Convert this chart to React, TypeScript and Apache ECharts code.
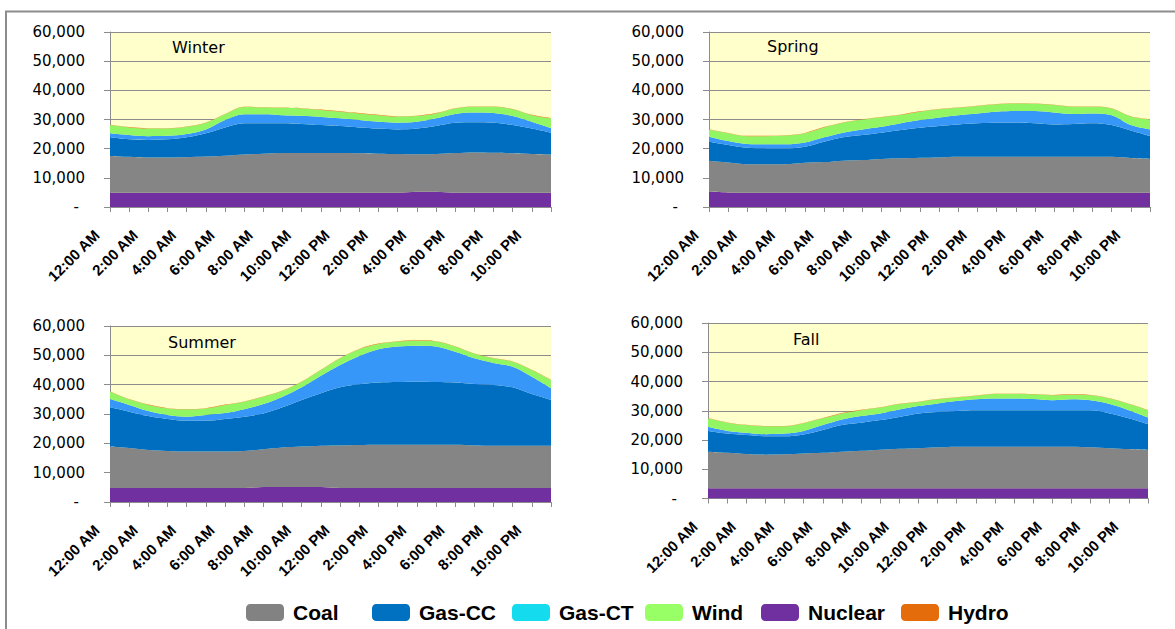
import React, { useEffect, useRef } from 'react';
import * as echarts from 'echarts';

const HOURS = [
  '12:00 AM', '1:00 AM', '2:00 AM', '3:00 AM', '4:00 AM', '5:00 AM',
  '6:00 AM', '7:00 AM', '8:00 AM', '9:00 AM', '10:00 AM', '11:00 AM',
  '12:00 PM', '1:00 PM', '2:00 PM', '3:00 PM', '4:00 PM', '5:00 PM',
  '6:00 PM', '7:00 PM', '8:00 PM', '9:00 PM', '10:00 PM', '11:00 PM',
];

const SEASONS = ['Winter', 'Spring', 'Summer', 'Fall'];
const SOURCES = ['Nuclear', 'Coal', 'Gas-CC', 'Gas-CT', 'Wind', 'Hydro'];
const LEGEND_ORDER = ['Coal', 'Gas-CC', 'Gas-CT', 'Wind', 'Nuclear', 'Hydro'];

// MW by hour
const winterNuclear = [4900, 4900, 4900, 4900, 4900, 4900, 4900, 4900, 4900, 4900, 4900, 4900, 4900, 4900, 4900, 4900, 5200, 5200, 4900, 4900, 4900, 4900, 4900, 4900];
const winterCoal = [12600, 12300, 12100, 12100, 12200, 12400, 12700, 13100, 13400, 13600, 13600, 13600, 13600, 13500, 13400, 13300, 12900, 13000, 13600, 13800, 13700, 13500, 13300, 13100];
const winterGasCC = [6400, 6000, 6000, 6200, 6800, 8000, 9700, 10700, 10400, 10200, 10000, 9600, 9300, 8900, 8600, 8400, 8800, 9600, 10400, 10400, 10300, 9700, 8700, 7500];
const winterGasCT = [1400, 1500, 1300, 1200, 1100, 1300, 2500, 3100, 3100, 2800, 2800, 2800, 2600, 2500, 2300, 2300, 2300, 2600, 3000, 3300, 3300, 3100, 2300, 1500];
const winterWind = [2800, 2600, 2600, 2500, 2500, 2300, 2000, 2500, 2300, 2500, 2500, 2400, 2300, 2300, 2300, 2100, 2000, 1700, 1900, 2000, 2200, 2300, 2300, 3400];
const winterHydro = [100, 100, 100, 100, 100, 100, 100, 100, 100, 100, 100, 100, 100, 100, 100, 100, 100, 100, 100, 100, 100, 100, 100, 100];

const springNuclear = [5200, 5000, 4900, 4900, 4900, 4900, 4900, 4900, 4900, 4900, 4900, 4900, 4900, 4900, 4900, 4900, 4900, 4900, 4900, 4900, 4900, 4900, 4900, 4900];
const springCoal = [10700, 10300, 9800, 9800, 9800, 10300, 10500, 11000, 11200, 11600, 11800, 12000, 12100, 12300, 12300, 12300, 12300, 12300, 12300, 12300, 12300, 12300, 11900, 11600];
const springGasCC = [6500, 6000, 5600, 5400, 5400, 5500, 7000, 8000, 8600, 9000, 9700, 10300, 10800, 11100, 11500, 11700, 11700, 11500, 11100, 11300, 11500, 10900, 9400, 7800];
const springGasCT = [1700, 1300, 1300, 1400, 1400, 1400, 1500, 1600, 1900, 2000, 2300, 2600, 2900, 3200, 3400, 3800, 4000, 4200, 4100, 3400, 3400, 3400, 1900, 2300];
const springWind = [2500, 2700, 2700, 2800, 3000, 3200, 3400, 3400, 3400, 3300, 2900, 2900, 2800, 2500, 2500, 2500, 2600, 2500, 2600, 2500, 2300, 2300, 2900, 3400];
const springHydro = [100, 100, 100, 100, 100, 100, 100, 100, 100, 100, 100, 100, 100, 100, 100, 100, 100, 100, 100, 100, 100, 100, 100, 100];

const summerNuclear = [4800, 4800, 4800, 4800, 4800, 4800, 4800, 4800, 5100, 5100, 5100, 5100, 4800, 4800, 4800, 4800, 4800, 4800, 4800, 4800, 4800, 4800, 4800, 4800];
const summerCoal = [14100, 13600, 12900, 12600, 12400, 12400, 12400, 12600, 12900, 13500, 13800, 14100, 14500, 14600, 14700, 14700, 14700, 14700, 14700, 14500, 14400, 14400, 14400, 14400];
const summerGasCC = [13400, 12400, 11600, 10900, 10500, 10500, 11100, 11700, 12200, 13700, 15900, 17900, 19800, 20700, 21200, 21400, 21500, 21400, 21200, 20900, 20700, 19900, 17600, 15600];
const summerGasCT = [2800, 2300, 1700, 1400, 1400, 2000, 2000, 2500, 3200, 3600, 4300, 5900, 7600, 9700, 11400, 12100, 12300, 12100, 10500, 8800, 7500, 7000, 5900, 4000];
const summerWind = [2500, 1900, 2100, 2200, 2500, 2200, 2800, 2600, 2500, 2000, 1900, 2000, 2300, 2300, 1800, 1700, 1700, 1700, 1800, 1500, 1600, 1700, 2300, 2800];
const summerHydro = [100, 100, 100, 100, 100, 100, 100, 100, 100, 100, 100, 100, 100, 100, 100, 100, 100, 100, 100, 100, 100, 100, 100, 100];

const fallNuclear = [3500, 3500, 3500, 3500, 3500, 3500, 3500, 3500, 3500, 3500, 3500, 3500, 3500, 3500, 3500, 3500, 3500, 3500, 3500, 3500, 3500, 3500, 3500, 3500];
const fallCoal = [12500, 12100, 11700, 11500, 11600, 11900, 12100, 12500, 12800, 13200, 13500, 13700, 14000, 14200, 14200, 14200, 14200, 14200, 14200, 14200, 14000, 13700, 13400, 13100];
const fallGasCC = [7100, 6600, 6500, 6300, 6200, 6500, 7800, 9100, 9600, 10100, 10900, 11900, 12100, 12200, 12500, 12500, 12500, 12500, 12500, 12500, 12700, 11900, 10500, 8800];
const fallGasCT = [1400, 900, 800, 700, 900, 1200, 1700, 1900, 2300, 2300, 2500, 2500, 2900, 3400, 3700, 4000, 4000, 3800, 3400, 3700, 3400, 3200, 2800, 2300];
const fallWind = [2900, 2800, 2600, 2700, 2500, 2600, 2300, 2100, 2000, 2000, 1900, 1400, 1400, 1200, 1200, 1500, 1500, 1600, 1700, 1600, 1700, 1900, 2100, 2500];
const fallHydro = [100, 100, 100, 100, 100, 100, 100, 100, 100, 100, 100, 100, 100, 100, 100, 100, 100, 100, 100, 100, 100, 100, 100, 100];

const SEASON_DATA: number[][][] = [
  [winterNuclear, winterCoal, winterGasCC, winterGasCT, winterWind, winterHydro],
  [springNuclear, springCoal, springGasCC, springGasCT, springWind, springHydro],
  [summerNuclear, summerCoal, summerGasCC, summerGasCT, summerWind, summerHydro],
  [fallNuclear, fallCoal, fallGasCC, fallGasCT, fallWind, fallHydro],
];

const AREA_COLORS: Record<string, string> = {
  Nuclear: '#7030A0',
  Coal: '#858585',
  'Gas-CC': '#006EC0',
  'Gas-CT': '#3797F8',
  Wind: '#92F664',
  Hydro: '#E46C0A',
};
const LEGEND_COLORS: Record<string, string> = {
  Coal: '#828282',
  'Gas-CC': '#0070C0',
  'Gas-CT': '#15DBEF',
  Wind: '#99FF66',
  Nuclear: '#7030A0',
  Hydro: '#E46C0A',
};

const GRIDS = [
  { left: 110, top: 32, width: 441, height: 175 },
  { left: 709, top: 32, width: 441, height: 175 },
  { left: 110, top: 326, width: 441, height: 176 },
  { left: 708, top: 323, width: 440, height: 175.5 },
];
const TITLE_POS = [
  { x: 172, y: 47 },
  { x: 767, y: 46.5 },
  { x: 168, y: 342.5 },
  { x: 793, y: 339 },
];
const LEGEND_LEFT = [246, 372, 512, 645, 761, 901];

const AXIS_GRAY = '#8c8c8c';

function fmt(v: number): string {
  if (v === 0) return '{d|-}';
  return String(v).replace(/\B(?=(\d{3})+(?!\d))/g, ',');
}

export default function App() {
  const ref = useRef<HTMLDivElement>(null);
  useEffect(() => {
    if (!ref.current) return;
    const chart = echarts.init(ref.current, undefined, { renderer: 'svg' });

    const xAxis = GRIDS.map((_, i) => ({
      type: 'category',
      gridIndex: i,
      data: HOURS,
      boundaryGap: false,
      axisLine: { show: true, lineStyle: { color: AXIS_GRAY, width: 1 } },
      axisTick: { show: true, interval: 0, length: 5, lineStyle: { color: AXIS_GRAY } },
      axisLabel: {
        interval: 1,
        rotate: 45,
        margin: 12,
        padding: [0, 19, 0, 0],
        fontFamily: '"Liberation Sans", Arial, sans-serif',
        fontWeight: 'bold',
        fontSize: 15,
        color: '#000',
      },
      splitLine: { show: false },
    }));

    const yAxis = GRIDS.map((_, i) => ({
      type: 'value',
      gridIndex: i,
      min: 0,
      max: 60000,
      interval: 10000,
      axisLine: { show: true, lineStyle: { color: AXIS_GRAY, width: 1 } },
      axisTick: { show: true, length: 6, lineStyle: { color: AXIS_GRAY } },
      splitLine: { show: true, lineStyle: { color: AXIS_GRAY, width: 1 } },
      axisLabel: {
        margin: 25,
        formatter: fmt,
        fontFamily: 'DejaVu Sans',
        fontSize: 15,
        color: '#000',
        rich: {
          d: { fontFamily: 'DejaVu Sans', fontSize: 15, color: '#000', padding: [0, 6, 0, 0] },
        },
      },
    }));

    const series: any[] = [];
    SEASON_DATA.forEach((sd, si) => {
      SOURCES.forEach((src, k) => {
        series.push({
          type: 'line',
          name: src,
          xAxisIndex: si,
          yAxisIndex: si,
          stack: 'season' + si,
          data: sd[k],
          smooth: 0.35,
          symbol: 'none',
          showSymbol: false,
          lineStyle: { width: 0, color: AREA_COLORS[src] },
          itemStyle: { color: AREA_COLORS[src] },
          areaStyle: { color: AREA_COLORS[src], opacity: 1 },
          emphasis: { disabled: true },
          silent: true,
        });
      });
    });

    const legend = LEGEND_ORDER.map((name, i) => ({
      left: LEGEND_LEFT[i],
      top: 602,
      padding: 0,
      orient: 'horizontal',
      itemWidth: 38,
      itemHeight: 17,
      icon: 'roundRect',
      selectedMode: false,
      data: [{ name, itemStyle: { color: LEGEND_COLORS[name] } }],
      textStyle: {
        fontFamily: 'Liberation Sans, Arial, sans-serif',
        fontWeight: 'bold',
        fontSize: 21,
        color: '#000',
        padding: [0, 0, 0, 4],
      },
    }));

    const graphic: any[] = [
      { type: 'line', silent: true, shape: { x1: 5, y1: 11.5, x2: 1175, y2: 11.5 }, style: { stroke: AXIS_GRAY, lineWidth: 2 } },
      { type: 'line', silent: true, shape: { x1: 6, y1: 11, x2: 6, y2: 629 }, style: { stroke: AXIS_GRAY, lineWidth: 2 } },
    ];
    SEASONS.forEach((s, i) => {
      graphic.push({
        type: 'text',
        x: TITLE_POS[i].x,
        y: TITLE_POS[i].y,
        z: 100,
        silent: true,
        style: {
          text: s,
          fontFamily: 'DejaVu Sans',
          fontSize: 16,
          fill: '#000',
          verticalAlign: 'middle',
          align: 'left',
        },
      });
    });

    chart.setOption({
      animation: false,
      backgroundColor: '#ffffff',
      grid: GRIDS.map((g) => ({ ...g, show: true, backgroundColor: '#FFFFCC', borderWidth: 0, containLabel: false })),
      xAxis,
      yAxis,
      series,
      legend,
      graphic,
    });
    return () => chart.dispose();
  }, []);

  return (
    <div
      ref={ref}
      style={{ position: 'fixed', left: 0, top: 0, width: 1175, height: 629, background: '#fff' }}
    />
  );
}
